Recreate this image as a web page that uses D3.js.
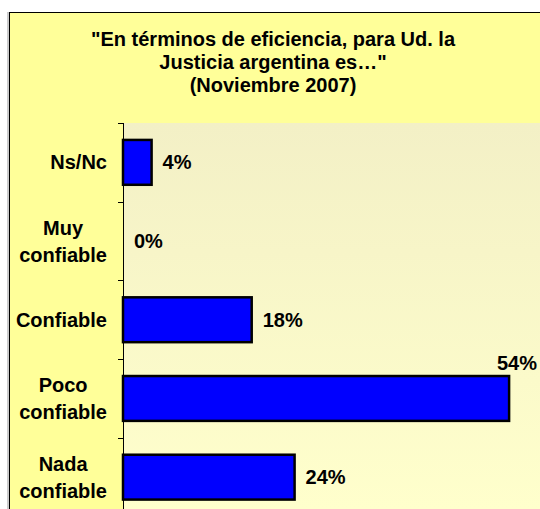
<!DOCTYPE html>
<html>
<head>
<meta charset="utf-8">
<script src="https://cdn.jsdelivr.net/npm/d3@7"></script>
<style>
  body { margin: 0; background: #fff; }
  svg text { font-family: Arial, "Liberation Sans", sans-serif; font-weight: bold; fill: #000; }
</style>
</head>
<body>
<div id="chart"></div>
<script>
const width = 540;
const height = 509;

// Data
const categories = ["Ns/Nc", "Muy\nconfiable", "Confiable", "Poco\nconfiable", "Nada\nconfiable"];
const values = [4, 0, 18, 54, 24];
const titleLines = ["\"En términos de eficiencia, para Ud. la", "Justicia argentina es…\"", "(Noviembre 2007)"];

const svg = d3.select("#chart").append("svg")
    .attr("width", width)
    .attr("height", height);

// Gradient for plot area
const defs = svg.append("defs");
const grad = defs.append("linearGradient")
    .attr("id", "plotGrad")
    .attr("x1", "0%").attr("y1", "0%")
    .attr("x2", "0%").attr("y2", "100%");
grad.append("stop").attr("offset", "0%").attr("stop-color", "#f3f0c6");
grad.append("stop").attr("offset", "100%").attr("stop-color", "#ffffcc");

// Chart frame
svg.append("line")
    .attr("x1", 8).attr("y1", 12).attr("x2", 8).attr("y2", height)
    .attr("stroke", "#999").attr("stroke-width", 1);
svg.append("rect")
    .attr("x", 9.5).attr("y", 12.5)
    .attr("width", width).attr("height", height)
    .attr("fill", "#ffff99")
    .attr("stroke", "#000")
    .attr("stroke-width", 1);

// Title
svg.append("text")
    .attr("text-anchor", "middle")
    .attr("font-size", 20)
    .selectAll("tspan")
    .data(titleLines)
    .enter().append("tspan")
    .attr("x", 273)
    .attr("y", (d, i) => 46 + i * 23)
    .text(d => d);

// Scales
const plotLeft = 123, plotTop = 123;
const x = d3.scaleLinear().domain([0, 60]).range([plotLeft, plotLeft + 429]);
const y = d3.scaleBand().domain(categories).range([plotTop, plotTop + 5 * 78.7]).paddingInner(0.43).paddingOuter(0.215);

// Plot area
svg.append("rect")
    .attr("x", plotLeft).attr("y", plotTop)
    .attr("width", width - plotLeft).attr("height", height - plotTop)
    .attr("fill", "url(#plotGrad)");

// Axis
const step = y.step();
const tickYs = d3.range(categories.length + 1).map(i => plotTop + i * step);
svg.selectAll(".tick")
    .data(tickYs)
    .enter().append("line")
    .attr("x1", plotLeft - 5).attr("x2", plotLeft)
    .attr("y1", d => Math.round(d) + 0.5).attr("y2", d => Math.round(d) + 0.5)
    .attr("stroke", "#000");
svg.append("line")
    .attr("x1", plotLeft + 0.5).attr("x2", plotLeft + 0.5)
    .attr("y1", plotTop).attr("y2", height)
    .attr("stroke", "#000");

// Bars
svg.selectAll(".bar")
    .data(values.map((v, i) => ({ c: categories[i], v })).filter(d => d.v > 0))
    .enter().append("rect")
    .attr("class", "bar")
    .attr("x", x(0))
    .attr("y", d => y(d.c))
    .attr("width", d => x(d.v) - x(0))
    .attr("height", y.bandwidth())
    .attr("fill", "#0000ff")
    .attr("stroke", "#000")
    .attr("stroke-width", 2.5);

// Value labels
values.forEach((v, i) => {
    const cy = y(categories[i]) + y.bandwidth() / 2;
    const lbl = svg.append("text")
        .attr("font-size", 20)
        .text(v + "%");
    if (x(v) + 50 > width) {
        lbl.attr("x", 537).attr("y", y(categories[i]) - 6).attr("text-anchor", "end");
    } else {
        lbl.attr("x", x(v) + 11).attr("y", cy).attr("dy", "0.35em");
    }
});

// Category labels: block right-aligned at 107, lines centered within block
categories.forEach(c => {
    const lines = c.split("\n");
    const cy = y(c) + y.bandwidth() / 2;
    const t = svg.append("text")
        .attr("font-size", 20)
        .attr("text-anchor", "middle");
    const spans = t.selectAll("tspan")
        .data(lines)
        .enter().append("tspan")
        .attr("y", (d, i) => cy + (i - (lines.length - 1) / 2) * 27)
        .attr("dy", "0.35em")
        .text(d => d);
    let w = 0;
    spans.each(function() { w = Math.max(w, this.getComputedTextLength()); });
    spans.attr("x", 107 - w / 2);
});
</script>
</body>
</html>
